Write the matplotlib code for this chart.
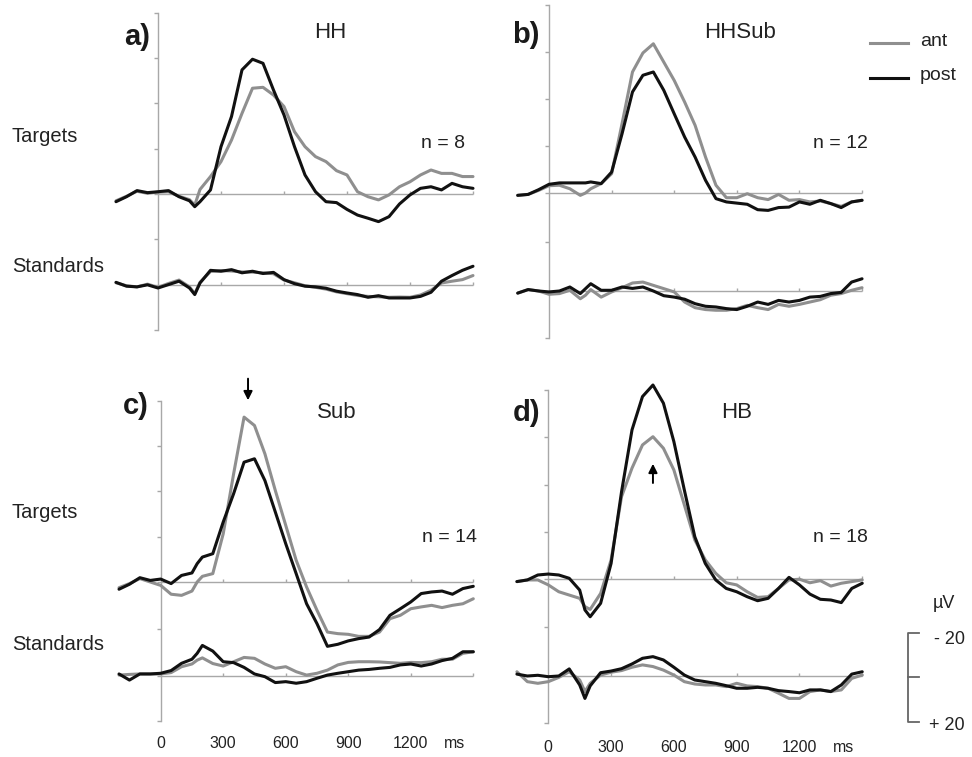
import numpy as np
import matplotlib
matplotlib.use('Agg')
import matplotlib.pyplot as plt
from matplotlib.lines import Line2D

plt.rcParams['font.family'] = ['Liberation Sans', 'DejaVu Sans']

# time points (ms), panels a/c start at -200, b/d at -150
t_ac = [-200, -150, -100, -50, 0, 50, 100, 150, 175] + list(range(200, 1501, 50))
t_bd = t_ac[1:]

# ---- a) HH ----
a_tgt_ant = [-3.0, -1.0, 1.2, 0.3, 0.8, 1.0, -1.0, -2.5, -4.9, 2.0, 7.7, 14.3, 23.8, 35.6, 46.7, 47.1, 43.7, 38.6,
             27.5, 20.9, 16.5, 14.3, 10.3, 8.4, 1.0, -1.2, -2.6, -0.4, 3.2, 5.4, 8.4, 10.6, 9.1, 9.1, 7.7, 7.7]
a_tgt_post = [-3.4, -1.2, 1.5, 0.6, 1.0, 1.5, -1.2, -3.0, -5.6, -3.4, 1.8, 20.9, 34.2, 54.8, 59.5, 57.7, 45.9, 34.9,
              20.9, 8.4, 1.0, -3.4, -3.8, -6.8, -9.3, -10.7, -12.2, -10.0, -4.4, -0.4, 2.5, 3.2, 1.8, 4.7, 3.2, 2.5]
a_std_ant = [0.8, -0.5, -1.0, 0.2, -1.2, 0.5, 2.0, -1.0, -4.0, 1.0, 5.8, 6.2, 6.0, 5.6, 5.5, 5.2, 4.8, 2.0,
             0.8, -0.5, -1.2, -2.0, -3.2, -4.0, -4.8, -5.2, -5.4, -5.6, -5.5, -5.6, -4.6, -2.5, 0.7, 1.5, 2.2, 4.0]
a_std_post = [1.0, -0.7, -1.0, -0.1, -1.5, 0.0, 1.5, -1.5, -4.4, 0.7, 6.3, 5.9, 6.6, 5.2, 5.9, 4.9, 5.4, 2.2,
              0.4, -0.7, -1.0, -1.6, -2.9, -3.7, -4.4, -5.6, -4.9, -5.9, -5.9, -5.9, -5.2, -3.4, 1.5, 4.0, 6.3, 8.1]

# ---- b) HHSub ----
b_tgt_ant = [-1.0, -0.6, 1.1, 3.1, 3.3, 1.8, -1.0, 0.0, 1.8, 4.0, 8.2, 29.5, 51.5, 59.6, 63.5, 55.7, 47.9,
             38.7, 28.8, 15.3, 3.3, -2.0, -2.0, -0.3, -2.0, -2.8, -0.6, -3.1, -2.8, -3.8, -3.4, -4.5, -5.7, -3.8, -3.1]
b_tgt_post = [-1.0, -0.6, 1.4, 3.7, 4.3, 4.3, 4.3, 4.3, 4.7, 4.0, 8.9, 25.2, 43.0, 50.1, 51.5, 43.7, 33.7,
              23.8, 15.3, 5.4, -2.4, -3.8, -4.3, -4.8, -7.1, -7.4, -6.2, -6.0, -3.8, -4.8, -3.1, -4.5, -6.2, -3.8, -3.1]
b_std_ant = [-0.9, 0.6, 0.0, -1.4, -1.1, 0.3, -3.3, -1.8, 0.6, -2.6, -0.4, 1.4, 3.4, 3.8, 2.4, 1.0, -0.4,
             -4.7, -7.1, -7.9, -8.2, -8.2, -7.5, -6.1, -7.1, -7.9, -5.7, -6.5, -5.7, -4.7, -3.7, -1.8, -1.1, 0.3, 1.4]
b_std_post = [-0.9, 0.6, 0.0, -0.4, 0.0, 1.7, -1.1, 1.0, 3.1, 0.3, 0.3, 1.7, 1.1, 1.7, 0.0, -2.0, -2.6,
              -3.5, -5.4, -6.5, -6.8, -7.5, -7.9, -6.5, -4.7, -5.7, -4.0, -4.7, -4.0, -2.6, -2.3, -1.1, -0.6, 3.8, 5.2]

# ---- c) Sub ----
c_tgt_ant = [-2.5, -0.7, 1.5, 0.0, -1.5, -5.4, -5.9, -4.0, 0.0, 2.5, 3.7, 21.3, 47.8, 72.8, 69.1, 56.6, 40.4, 25.0,
             9.6, -2.2, -12.5, -22.1, -22.8, -23.1, -24.0, -24.0, -22.1, -16.2, -14.7, -11.8, -11.0, -10.3, -11.3,
             -10.3, -9.6, -7.4]
c_tgt_post = [-3.2, -1.0, 1.9, 0.7, 1.3, -0.7, 2.9, 4.0, 8.1, 11.0, 12.5, 26.5, 39.0, 52.9, 54.4, 44.8, 30.9, 16.9,
              3.7, -9.6, -18.4, -28.4, -27.5, -26.0, -25.0, -24.3, -21.0, -14.7, -11.8, -8.8, -5.1, -4.4, -4.0,
              -5.4, -2.9, -1.9]
c_std_ant = [0.4, 0.7, 0.9, 0.9, 0.9, 1.5, 4.1, 5.3, 7.0, 8.0, 5.5, 4.4, 6.3, 8.2, 7.8, 5.3, 3.4, 4.1,
             1.9, 0.4, 1.2, 2.6, 4.9, 6.0, 6.3, 6.3, 6.2, 5.9, 5.6, 6.0, 5.9, 6.3, 7.4, 7.4, 10.0, 10.7]
c_std_post = [0.9, -1.8, 0.9, 0.9, 1.2, 2.4, 5.6, 7.4, 10.0, 13.5, 11.0, 6.3, 5.9, 3.8, 0.9, -0.3, -2.9, -2.5,
              -3.2, -2.5, -1.0, 0.4, 1.2, 1.9, 2.6, 2.9, 3.4, 3.8, 4.9, 5.3, 4.4, 5.3, 6.8, 7.8, 10.7, 10.7]

# ---- d) HB ----
d_tgt_ant = [-1.1, -0.4, -0.4, -2.5, -5.4, -6.8, -8.2, -11.7, -12.9, -6.1, 8.1, 34.9, 47.0, 56.8, 60.3, 55.4, 46.2,
             31.4, 16.5, 8.1, 2.4, -1.6, -2.5, -5.4, -7.8, -7.5, -4.0, -0.4, -0.1, -1.6, -0.7, -3.0, -1.8, -1.1, -0.4]
d_tgt_post = [-1.1, -0.4, 1.7, 2.1, 1.7, 0.3, -4.7, -13.1, -16.0, -10.3, 6.6, 37.0, 63.2, 77.3, 82.2, 74.5, 58.2,
              37.7, 17.9, 6.6, -0.4, -4.0, -5.4, -7.5, -9.2, -8.2, -4.0, 0.7, -2.5, -6.4, -8.6, -8.9, -10.0, -4.0, -1.8]
d_std_ant = [1.8, -2.4, -3.1, -2.4, -0.6, 1.8, -1.7, -6.6, -3.1, 0.4, 1.6, 2.3, 3.7, 4.7, 4.0, 2.5, 0.4,
             -2.4, -3.4, -3.8, -3.8, -4.5, -3.1, -4.2, -4.5, -5.2, -7.3, -9.5, -9.5, -6.6, -5.9, -6.6, -5.9, -1.0, 0.4]
d_std_post = [0.8, 0.0, 0.3, -0.3, 0.0, 3.0, -3.8, -9.5, -4.2, 1.4, 2.1, 3.1, 5.1, 7.5, 8.2, 6.8, 3.7,
              0.4, -1.7, -2.4, -3.1, -4.1, -5.2, -5.2, -4.8, -5.2, -6.2, -6.6, -7.1, -5.9, -5.9, -6.6, -3.8, 0.8, 1.8]

titles = ['HH', 'HHSub', 'Sub', 'HB']
letters = ['a)', 'b)', 'c)', 'd)']
n_labels = ['n = 8', 'n = 12', 'n = 14', 'n = 18']
xtick_vals = [0, 300, 600, 900, 1200]

GRAY = '#8f8f8f'
BLACK = '#111111'
AXC = '#a8a8a8'
TXT = '#222222'

W, H = 972, 757
fig = plt.figure(figsize=(W / 100, H / 100), dpi=100)


def ftext(x, y, s, **kw):
    kw.setdefault('color', TXT)
    return fig.text(x / W, 1 - y / H, s, **kw)


def make_axes(x0, xs, y0, ys, xlim=(-260, 1560), ylim=(-75, 97)):
    # x0,y0 = pixel of (0 ms, 0 uV); xs px per ms, ys px per uV
    left = x0 + xlim[0] * xs
    right = x0 + xlim[1] * xs
    top = y0 - ylim[1] * ys
    bottom = y0 - ylim[0] * ys
    ax = fig.add_axes([left / W, 1 - bottom / H, (right - left) / W, (bottom - top) / H])
    ax.set_xlim(xlim)
    ax.set_ylim(ylim)
    ax.set_axis_off()
    ax.patch.set_alpha(0)
    return ax


def draw_panel(ax, t, tgt_ant, tgt_post, std_ant, std_post, std_off, xs, ys):
    # axis frame
    ax.plot([0, 0], [80, std_off - 20], color=AXC, lw=1.0)
    yt = [80, 60, 40, 20, 0, std_off / 2, std_off, std_off - 20]
    ax.hlines(yt, -4 / xs, 0, color=AXC, lw=1.0)
    for b in (0, std_off):
        ax.hlines(b, 0, 1500, color=AXC, lw=1.0)
        ax.vlines([300, 600, 900, 1200, 1500], b, b + 3 / ys, color=AXC, lw=1.0)
    t = np.array(t)
    kw = dict(lw=2.2, solid_joinstyle='round', solid_capstyle='round')
    ax.plot(t, tgt_ant, color=GRAY, **kw)
    ax.plot(t, np.array(std_ant) + std_off, color=GRAY, **kw)
    ax.plot(t, tgt_post, color=BLACK, **kw)
    ax.plot(t, np.array(std_post) + std_off, color=BLACK, **kw)


# panel geometry (pixels)
geo = [
    dict(x0=158.0, xs=0.2100, y0=194.0, ys=2.265, off=-40.0),
    dict(x0=549.0, xs=0.2087, y0=193.0, ys=2.350, off=-41.7),
    dict(x0=160.7, xs=0.2084, y0=582.0, ys=2.265, off=-41.5),
    dict(x0=548.3, xs=0.2093, y0=579.0, ys=2.360, off=-41.1),
]
data = [
    (t_ac, a_tgt_ant, a_tgt_post, a_std_ant, a_std_post),
    (t_bd, b_tgt_ant, b_tgt_post, b_std_ant, b_std_post),
    (t_ac, c_tgt_ant, c_tgt_post, c_std_ant, c_std_post),
    (t_bd, d_tgt_ant, d_tgt_post, d_std_ant, d_std_post),
]

axes = []
for g, d in zip(geo, data):
    ax = make_axes(g['x0'], g['xs'], g['y0'], g['ys'])
    draw_panel(ax, *d, g['off'], g['xs'], g['ys'])
    axes.append(ax)

# panel letters and titles
letter_pos = [(137, 37), (526, 35), (136, 406), (527, 413)]
title_pos = [(330, 32), (740, 33), (337, 413), (737, 413)]
n_pos = [(443, 144), (840, 144), (449, 538), (840, 538)]
for i in range(4):
    ftext(*letter_pos[i], letters[i], fontsize=21, fontweight='bold', ha='center', va='center', color='#1a1a1a')
    ftext(*title_pos[i], titles[i], fontsize=16, ha='center', va='center')
    ftext(*n_pos[i], n_labels[i], fontsize=14, ha='center', va='center')

# row labels
for yt, ys_ in [(136, 266), (513, 645)]:
    ftext(12, yt, 'Targets', fontsize=14.5, ha='left', va='center')
    ftext(12, ys_, 'Standards', fontsize=14.5, ha='left', va='center')

# x tick labels under bottom panels
for g, ylab in [(geo[2], 743), (geo[3], 747)]:
    for v in xtick_vals:
        ftext(g['x0'] + v * g['xs'], ylab, str(v), fontsize=11.5, ha='center', va='center')
    ftext(g['x0'] + 1410 * g['xs'], ylab, 'ms', fontsize=11.5, ha='center', va='center')

# arrows
axes[2].annotate('', xy=(419, 79), xytext=(419, 91),
                 arrowprops=dict(arrowstyle='-|>', color='k', lw=1.4, mutation_scale=13))
axes[3].annotate('', xy=(500, 50), xytext=(500, 39.5),
                 arrowprops=dict(arrowstyle='-|>', color='k', lw=1.4, mutation_scale=13))

# legend
for yy, col, lab in [(43, GRAY, 'ant'), (78, BLACK, 'post')]:
    fig.add_artist(Line2D([870 / W, 908 / W], [1 - yy / H, 1 - yy / H], color=col, lw=2.2))
    ftext(920, yy - 2, lab, fontsize=14, ha='left', va='center')

# scale bar
SB = '#666666'
fig.add_artist(Line2D([919 / W, 908 / W, 908 / W, 919 / W],
                      [1 - 633 / H, 1 - 633 / H, 1 - 722 / H, 1 - 722 / H], color=SB, lw=1.3))
fig.add_artist(Line2D([908 / W, 919 / W], [1 - 677 / H, 1 - 677 / H], color=SB, lw=1.3))
ftext(944, 603, '\u00b5V', fontsize=13, ha='center', va='center')
ftext(934, 640, '- 20', fontsize=13, ha='left', va='center')
ftext(929, 726, '+ 20', fontsize=13, ha='left', va='center')

fig.savefig('out.png', dpi=100)
